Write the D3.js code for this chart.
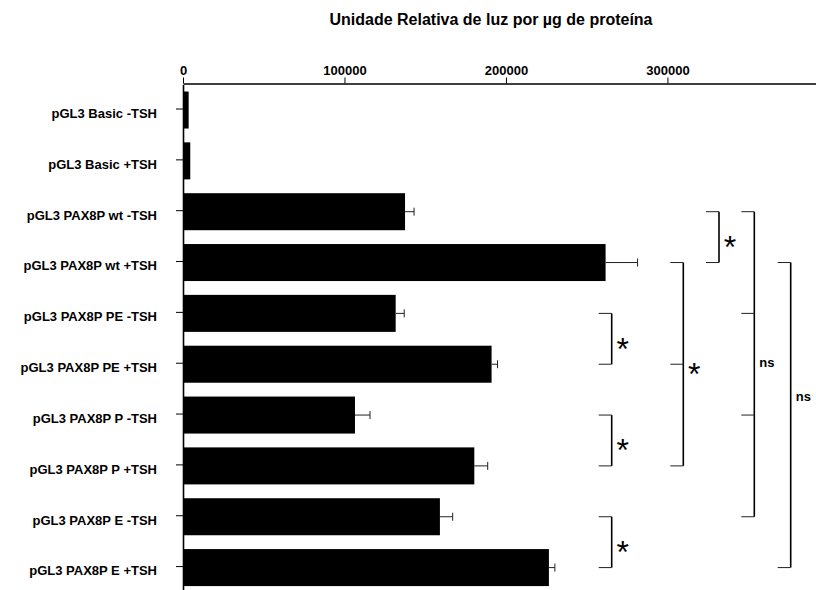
<!DOCTYPE html>
<html>
<head>
<meta charset="utf-8">
<script src="https://cdn.jsdelivr.net/npm/d3@7"></script>
<style>
  body { margin: 0; background: #fff; }
  text { font-family: "Liberation Sans", Arial, sans-serif; }
</style>
</head>
<body>
<div id="chart"></div>
<script>
// data
const categories = [
    "pGL3 Basic -TSH",
    "pGL3 Basic +TSH",
    "pGL3 PAX8P wt -TSH",
    "pGL3 PAX8P wt +TSH",
    "pGL3 PAX8P PE -TSH",
    "pGL3 PAX8P PE +TSH",
    "pGL3 PAX8P P -TSH",
    "pGL3 PAX8P P +TSH",
    "pGL3 PAX8P E -TSH",
    "pGL3 PAX8P E +TSH"
];
const means  = [3500, 4500, 137500, 261700, 131700, 191100, 106500, 180400, 159100, 226600];
const errors = [0, 0, 5600, 19800, 5300, 3700, 9300, 8300, 7900, 3700];
const xTicks = [0, 100000, 200000, 300000];

// significance brackets: which bars they join, and the mark
const bracketGroups = [[4, 5], [6, 7], [8, 9], [3, 5, 7], [2, 3], [2, 4, 6, 8], [3, 9]];
const bracketLabels = ["*", "*", "*", "*", "*", "ns", "ns"];

const title = "Unidade Relativa de luz por µg de proteína";

const width = 816, height = 590;

const svg = d3.select("#chart")
    .append("svg")
        .attr("width", width)
        .attr("height", height);

const x = d3.scaleLinear()
    .domain([0, 392000])
    .range([183, 816]);

const y = d3.scaleBand()
    .domain(categories)
    .range([84.6, 593])
    .paddingInner(0.272)
    .paddingOuter(0.136);

// title
svg.append("text")
    .attr("x", 491)
    .attr("y", 25)
    .attr("text-anchor", "middle")
    .style("font-size", "16px")
    .style("font-weight", "bold")
    .text(title);

// bars
svg.append("g")
    .selectAll("rect")
    .data(categories)
    .join("rect")
        .attr("x", x(0))
        .attr("y", d => y(d))
        .attr("width", (d, i) => x(means[i]) - x(0))
        .attr("height", y.bandwidth())
        .attr("fill", "#000");

// error bars (positive side only)
const err = svg.append("g")
    .attr("stroke", "#222")
    .attr("stroke-width", 1)
    .selectAll("g")
    .data(categories)
    .join("g")
    .filter((d, i) => errors[i] > 0);

err.append("line")
    .attr("x1", d => x(means[categories.indexOf(d)]))
    .attr("x2", d => x(means[categories.indexOf(d)] + errors[categories.indexOf(d)]))
    .attr("y1", d => y(d) + y.bandwidth() / 2)
    .attr("y2", d => y(d) + y.bandwidth() / 2);

err.append("line")
    .attr("x1", d => x(means[categories.indexOf(d)] + errors[categories.indexOf(d)]))
    .attr("x2", d => x(means[categories.indexOf(d)] + errors[categories.indexOf(d)]))
    .attr("y1", d => y(d) + y.bandwidth() / 2 - 4)
    .attr("y2", d => y(d) + y.bandwidth() / 2 + 4);

// top axis
const xAxis = svg.append("g")
    .attr("transform", "translate(0,83.5)")
    .call(d3.axisTop(x)
        .tickValues(xTicks)
        .tickFormat(d3.format("d"))
        .tickSize(6)
        .tickSizeOuter(0)
        .tickPadding(3));
xAxis.select(".domain").attr("stroke-width", 1.6);
xAxis.selectAll("text")
    .style("font-size", "13px")
    .style("font-weight", "bold")
    .attr("fill", "#000");

// left axis
const yAxis = svg.append("g")
    .attr("transform", "translate(183,0)")
    .call(d3.axisLeft(y)
        .tickSize(7)
        .tickSizeOuter(0)
        .tickPadding(19));
yAxis.select(".domain").attr("stroke-width", 1.6);
yAxis.selectAll(".tick line").attr("transform", "translate(0,-1)");
yAxis.selectAll("text")
    .attr("dy", "0.6em")
    .style("font-size", "13px")
    .style("font-weight", "bold")
    .attr("fill", "#000");

// brackets
const bracketX = [611.7, 611.7, 611.7, 683.3, 719, 754.3, 790.7];
const labelShift = [3, 3, 3, 3, 3, -2, -19];
const cy = i => y(categories[i]) + y.bandwidth() / 2;

const br = svg.append("g")
    .selectAll("g")
    .data(bracketGroups)
    .join("g");

br.append("line")
    .attr("x1", (d, k) => bracketX[k])
    .attr("x2", (d, k) => bracketX[k])
    .attr("y1", d => cy(d[0]))
    .attr("y2", d => cy(d[d.length - 1]))
    .attr("stroke", "#000")
    .attr("stroke-width", 1.6);

br.each(function(d, k) {
    d3.select(this).selectAll(".arm")
        .data(d)
        .join("line")
            .attr("class", "arm")
            .attr("x1", bracketX[k] - 13)
            .attr("x2", bracketX[k])
            .attr("y1", i => cy(i))
            .attr("y2", i => cy(i))
            .attr("stroke", "#222")
            .attr("stroke-width", 1);
});

br.append("text")
    .attr("x", (d, k) => bracketLabels[k] === "*" ? bracketX[k] + 11 : bracketX[k] + 5)
    .attr("y", (d, k) => {
        const mid = (cy(d[0]) + cy(d[d.length - 1])) / 2 + labelShift[k];
        return bracketLabels[k] === "*" ? mid + 18 : mid + 4.6;
    })
    .attr("text-anchor", (d, k) => bracketLabels[k] === "*" ? "middle" : "start")
    .style("font-size", (d, k) => bracketLabels[k] === "*" ? "32px" : "13px")
    .style("font-weight", (d, k) => bracketLabels[k] === "*" ? "normal" : "bold")
    .text((d, k) => bracketLabels[k]);
</script>
</body>
</html>
